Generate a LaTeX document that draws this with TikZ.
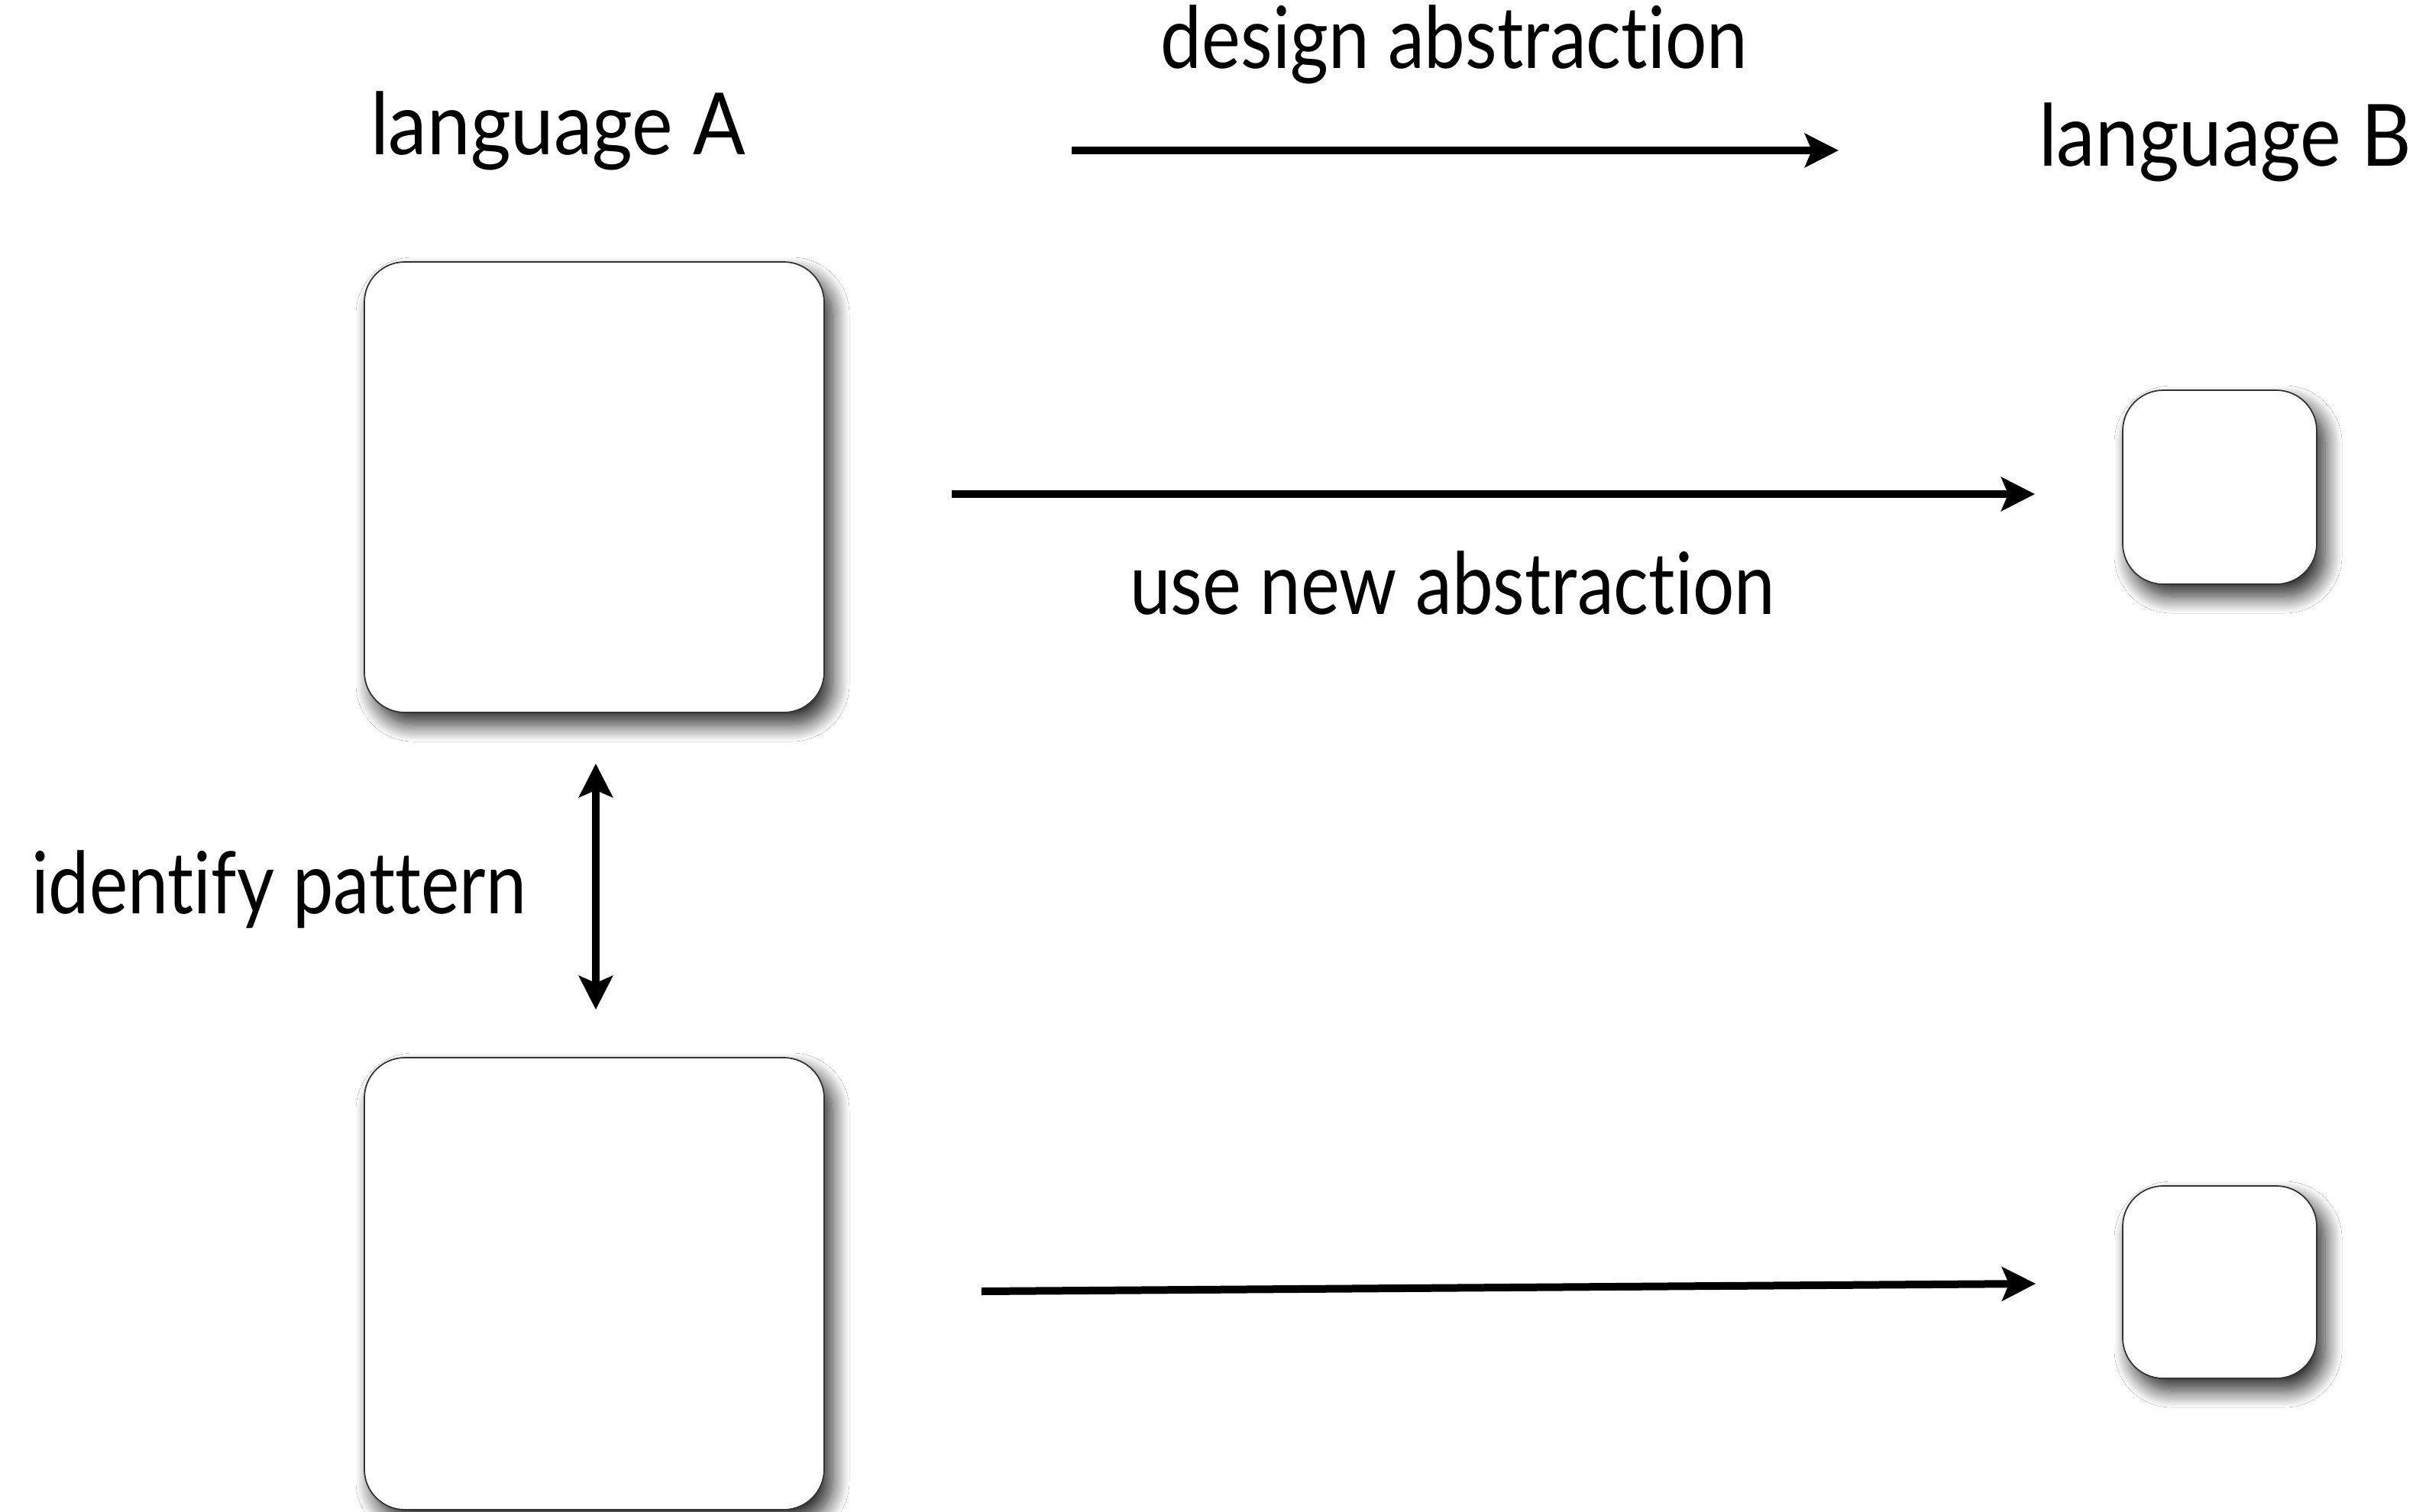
\documentclass[tikz,border=0pt]{standalone}
\usepackage{fontspec}
\setmainfont{Lato}[Ligatures={NoCommon}]
\usepackage{graphicx}
\usetikzlibrary{arrows.meta,shadows.blur}
\tikzset{
  card/.style={draw=black!80, line width=0.5pt, fill=white, rounded corners=0.53cm,
    blur shadow={shadow xshift=0.11cm, shadow yshift=-0.16cm, shadow blur radius=0.22cm, shadow blur steps=20, shadow opacity=85}},
  lbl/.style={anchor=base, inner sep=0pt, font=\fontsize{32}{38}\selectfont},
  arr/.style={line width=0.1cm, -{Stealth[length=0.44cm, width=0.44cm, inset=0.09cm]}},
  darr/.style={line width=0.1cm, {Stealth[length=0.44cm, width=0.44cm, inset=0.09cm]}-{Stealth[length=0.44cm, width=0.44cm, inset=0.09cm]}}
}
\begin{document}
\begin{tikzpicture}
\useasboundingbox (0,0) rectangle (31.8,-19.8);
\fill[white] (0,0) rectangle (31.8,-19.8);

\node[card, minimum width=6.02cm, minimum height=5.90cm] (A1) at (7.78,-6.38) {};
\node[card, minimum width=6.02cm, minimum height=5.92cm] (A2) at (7.78,-16.81) {};
\node[card, minimum width=2.54cm, minimum height=2.54cm] (B1) at (29.06,-6.38) {};
\node[card, minimum width=2.54cm, minimum height=2.52cm] (B2) at (29.06,-16.79) {};

\node[lbl] (langA) at (7.305,-2.02) {\resizebox{4.91cm}{\height}{language A}};
\node[lbl] (langB) at (29.13,-2.17) {\resizebox{4.88cm}{\height}{language B}};
\node[lbl] (design) at (19.04,-0.89) {\resizebox{7.68cm}{\height}{design abstraction}};
\node[lbl] (use) at (19.015,-8.04) {\resizebox{8.45cm}{\height}{use new abstraction}};
\node[lbl] (ident) at (3.65,-11.96) {\resizebox{6.48cm}{\height}{identify pattern}};

\coordinate (dS) at (14.03,-1.97);
\coordinate (dE) at (24.07,-1.97);
\draw[arr] (dS) -- (dE);

\draw[arr] ([shift={(1.66,-0.09)}]A1.east) -- ([shift={(-1.14,-0.09)}]B1.west);
\draw[arr] ([shift={(2.05,-0.10)}]A2.east) -- ([shift={(-1.13,-0.02)}]B2.west);
\draw[darr] ([shift={(0.02,-0.66)}]A1.south) -- ([shift={(0.02,0.62)}]A2.north);
\end{tikzpicture}
\end{document}
